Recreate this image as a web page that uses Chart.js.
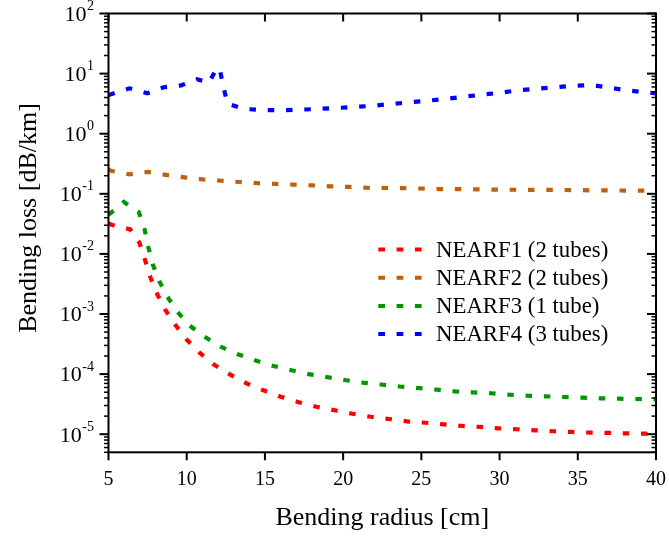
<!DOCTYPE html>
<html>
<head>
<meta charset="utf-8">
<script src="https://cdn.jsdelivr.net/npm/chart.js@4.4.0/dist/chart.umd.min.js"></script>
<style>
body { margin: 0; background: #fff; }
#wrap { width: 669px; height: 538px; }
</style>
</head>
<body>
<div id="wrap"><canvas id="bend-chart" width="669" height="538"></canvas></div>
<script>
// values (x = bending radius in cm, y = loss in dB/km)
var radius1 = [5, 5.24, 6.39, 6.98, 7.35, 7.69, 8.12, 8.65, 9.29, 10.01, 10.82, 11.76, 12.79, 13.81, 14.9, 16.0, 17.16, 18.29, 19.46, 20.59, 21.76, 22.93, 24.08, 25.26, 26.43, 27.6, 28.78, 29.95, 31.12, 32.3, 33.47, 34.62, 35.82, 36.99, 38.14, 39.34, 40];
var loss1 = [0.032, 0.0303, 0.0256, 0.0153, 0.0077, 0.00402, 0.00213, 0.00115, 6.49e-4, 3.73e-4, 2.27e-4, 1.43e-4, 9.77e-5, 7.03e-5, 5.37e-5, 4.21e-5, 3.40e-5, 2.87e-5, 2.50e-5, 2.19e-5, 1.95e-5, 1.79e-5, 1.64e-5, 1.55e-5, 1.46e-5, 1.37e-5, 1.32e-5, 1.25e-5, 1.21e-5, 1.16e-5, 1.12e-5, 1.09e-5, 1.06e-5, 1.05e-5, 1.03e-5, 1.02e-5, 1.0e-5];

var radius2 = [5, 5.24, 6.34, 7.51, 8.69, 9.86, 11.01, 12.19, 13.36, 14.53, 15.7, 16.86, 18.04, 19.21, 20.42, 21.57, 23.92, 26.24, 28.24, 30.25, 33.77, 36.24, 38.58, 40];
var loss2 = [0.25, 0.239, 0.211, 0.231, 0.206, 0.188, 0.174, 0.165, 0.157, 0.150, 0.146, 0.142, 0.138, 0.133, 0.130, 0.126, 0.124, 0.120, 0.119, 0.117, 0.116, 0.114, 0.113, 0.113];

var radius3 = [5, 5.17, 5.98, 6.94, 7.3, 7.54, 7.83, 8.24, 8.76, 9.4, 10.14, 11.14, 12.17, 13.23, 14.36, 15.49, 16.63, 17.78, 18.93, 20.08, 21.25, 22.43, 23.62, 24.79, 25.97, 27.12, 28.27, 29.46, 30.61, 31.76, 32.94, 34.07, 35.28, 36.46, 37.61, 38.76, 40];
var loss3 = [0.045, 0.0485, 0.0731, 0.0498, 0.0262, 0.0132, 0.00671, 0.00354, 0.00194, 0.00109, 6.56e-4, 4.19e-4, 2.86e-4, 2.16e-4, 1.70e-4, 1.38e-4, 1.17e-4, 1.0e-4, 8.95e-5, 7.98e-5, 7.2e-5, 6.71e-5, 6.22e-5, 5.87e-5, 5.5e-5, 5.17e-5, 4.98e-5, 4.8e-5, 4.54e-5, 4.37e-5, 4.27e-5, 4.16e-5, 4.05e-5, 3.96e-5, 3.9e-5, 3.85e-5, 3.8e-5];

var radius4 = [5, 5.17, 6.34, 7.48, 8.52, 9.65, 10.65, 11.42, 11.89, 12.1, 12.34, 12.6, 13.68, 14.87, 16.05, 17.22, 18.39, 19.57, 20.72, 21.9, 23.06, 24.24, 25.39, 26.56, 27.72, 28.9, 30.05, 31.22, 32.39, 33.54, 34.7, 35.87, 37.02, 38.19, 39.34, 40];
var loss4 = [4.4, 4.53, 5.69, 4.70, 5.91, 6.38, 8.03, 7.06, 11.9, 12.3, 6.15, 3.16, 2.58, 2.48, 2.45, 2.51, 2.58, 2.68, 2.78, 2.92, 3.12, 3.33, 3.54, 3.78, 4.13, 4.46, 4.81, 5.27, 5.61, 5.91, 6.29, 6.46, 5.82, 5.27, 4.88, 4.7];

var seriesNames = ['NEARF1 (2 tubes)', 'NEARF2 (2 tubes)', 'NEARF3 (1 tube)', 'NEARF4 (3 tubes)'];
var xTicks = [5, 10, 15, 20, 25, 30, 35, 40];
var yDecades = [-5, -4, -3, -2, -1, 0, 1, 2];

var serif = '"Liberation Serif", "Times New Roman", serif';

function toPoints(xs, ys) {
    var pts = [];
    for (var i = 0; i < xs.length; i++) {
        pts.push({x: xs[i], y: ys[i]});
    }
    return pts;
}

function makeSet(label, xs, ys, color) {
    return {
        label: label,
        data: toPoints(xs, ys),
        borderColor: color,
        backgroundColor: color,
        borderWidth: 4.2,
        borderDash: [6.5, 11.8],
        borderCapStyle: 'butt',
        pointRadius: 0,
        tension: 0,
        fill: false
    };
}

function seg(ctx, x1, y1, x2, y2) {
    ctx.beginPath();
    ctx.moveTo(x1, y1);
    ctx.lineTo(x2, y2);
    ctx.stroke();
}

// frame, ticks, labels and legend drawn the way the original figure has them
var framePlugin = {
    id: 'frameAxes',
    afterDatasetsDraw: function (chart) {
        var ctx = chart.ctx;
        var a = chart.chartArea;
        var xs = chart.scales.x;
        var ys = chart.scales.y;
        ctx.save();
        ctx.setLineDash([]);
        ctx.strokeStyle = '#000';
        ctx.fillStyle = '#000';
        ctx.lineCap = 'butt';

        ctx.lineWidth = 2;
        ctx.strokeRect(a.left, a.top, a.right - a.left, a.bottom - a.top);

        // x axis
        ctx.font = '20px ' + serif;
        ctx.textAlign = 'center';
        ctx.textBaseline = 'alphabetic';
        xTicks.forEach(function (v) {
            var px = xs.getPixelForValue(v);
            seg(ctx, px, a.bottom, px, a.bottom + 8);
            seg(ctx, px, a.top, px, a.top + 8);
            ctx.fillText(String(v), px, a.bottom + 33);
        });

        // y axis, major + minor ticks
        for (var k = -6; k <= 2; k++) {
            for (var m = 1; m <= 9; m++) {
                var v = m * Math.pow(10, k);
                if (v < ys.min * 0.999 || v > ys.max * 1.001) continue;
                var py = ys.getPixelForValue(v);
                var len = (m == 1) ? 9 : 4.5;
                ctx.lineWidth = (m == 1) ? 2 : 1.5;
                seg(ctx, a.left, py, a.left - len, py);
                seg(ctx, a.right, py, a.right - len, py);
            }
        }

        ctx.textAlign = 'right';
        yDecades.forEach(function (k) {
            var py = ys.getPixelForValue(Math.pow(10, k));
            var right = a.left - 14.5;
            ctx.font = '14px ' + serif;
            var exp = String(k);
            var w = ctx.measureText(exp).width;
            ctx.fillText(exp, right, py - 3.5);
            ctx.font = '22px ' + serif;
            ctx.fillText('10', right - w - 0.5, py + 7.3);
        });

        // axis titles
        ctx.font = '26px ' + serif;
        ctx.textAlign = 'center';
        ctx.fillText('Bending radius [cm]', (a.left + a.right) / 2, 525);
        ctx.save();
        ctx.translate(36, 218);
        ctx.rotate(-Math.PI / 2);
        ctx.fillText('Bending loss [dB/km]', 0, 0);
        ctx.restore();

        // legend
        ctx.font = '22.8px ' + serif;
        ctx.textAlign = 'left';
        chart.data.datasets.forEach(function (ds, i) {
            var ly = 249.5 + 28.2 * i;
            ctx.strokeStyle = ds.borderColor;
            ctx.lineWidth = 4;
            ctx.setLineDash([6.7, 11.6]);
            seg(ctx, 378.3, ly, 421.7, ly);
            ctx.setLineDash([]);
            ctx.fillStyle = '#000';
            ctx.fillText(ds.label, 436, ly + 7.2);
        });
        ctx.restore();
    }
};

var configLine = {
    type: 'line',
    data: {
        datasets: [
            makeSet(seriesNames[0], radius1, loss1, '#ff0000'),
            makeSet(seriesNames[1], radius2, loss2, '#c0600c'),
            makeSet(seriesNames[2], radius3, loss3, '#009600'),
            makeSet(seriesNames[3], radius4, loss4, '#0000ff')
        ]
    },
    options: {
        responsive: false,
        devicePixelRatio: 1,
        animation: false,
        layout: {
            padding: {left: 108.5, top: 13.5, right: 13, bottom: 85.7}
        },
        scales: {
            x: {type: 'linear', min: 5, max: 40, display: false},
            y: {type: 'logarithmic', min: 5e-6, max: 100, display: false}
        },
        plugins: {
            legend: {display: false},
            title: {display: false},
            tooltip: {enabled: false}
        }
    },
    plugins: [framePlugin]
};

var bendCtx = document.getElementById('bend-chart').getContext('2d');
var bendChart = new Chart(bendCtx, configLine);
</script>
</body>
</html>
